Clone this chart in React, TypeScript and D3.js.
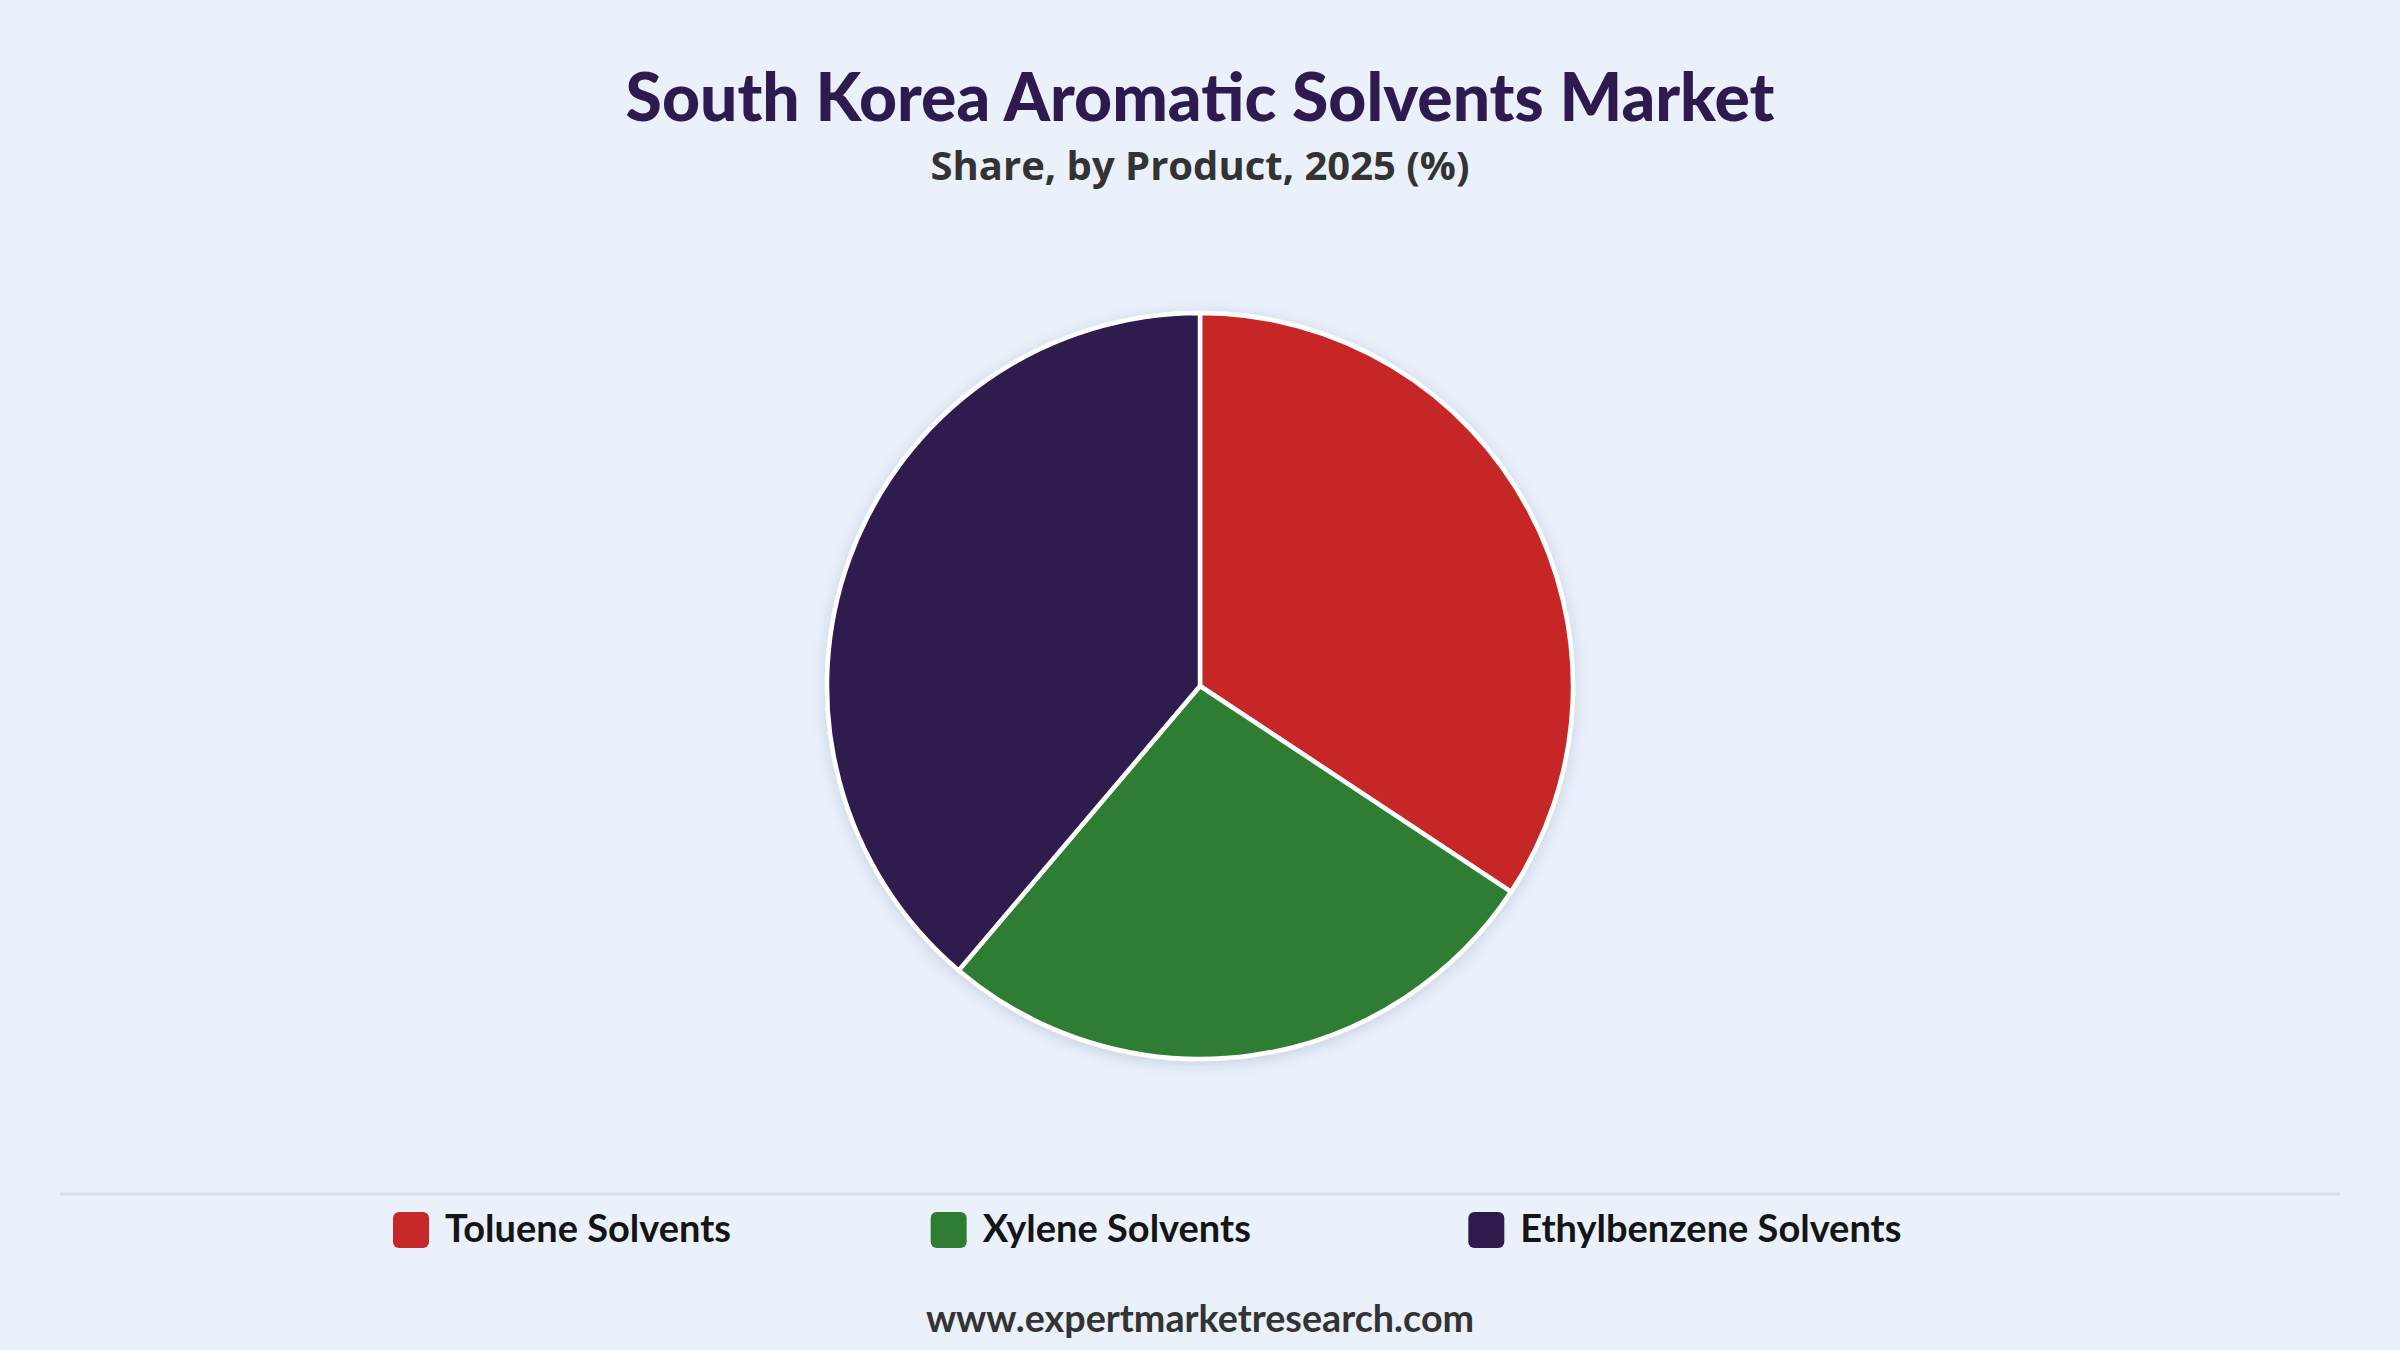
import * as d3 from 'd3';

const categories = ['Toluene Solvents', 'Xylene Solvents', 'Ethylbenzene Solvents'];
const shares = [34.3, 26.9, 38.8];
const colors = ['#c62828', '#2e7d32', '#2e1a4f'];

const title = 'South Korea Aromatic Solvents Market';
const subtitle = 'Share, by Product, 2025 (%)';
const footer = 'www.expertmarketresearch.com';

const W = 2400;
const H = 1350;
const FONT = 'Lato, "Open Sans", sans-serif';

const App = () => {
  const cx = 1200;
  const cy = 686;
  const radius = 373;

  const slices = d3
    .pie<number>()
    .sort(null)
    .startAngle(0)
    .endAngle(2 * Math.PI)(shares);

  const arc = d3.arc<d3.PieArcDatum<number>>().innerRadius(0).outerRadius(radius);

  // legend columns, left aligned
  const legendX = d3.scaleBand<string>().domain(categories).range([393, 2006]);

  return (
    <svg
      width={W}
      height={H}
      style={{ position: 'absolute', left: 0, top: 0, display: 'block' }}
    >
      <defs>
        <filter id="pieShadow" x="-20%" y="-20%" width="140%" height="140%">
          <feDropShadow dx="0" dy="3" stdDeviation="7" floodColor="#2a3a5a" floodOpacity="0.18" />
        </filter>
      </defs>
      <rect width={W} height={H} fill="#eaf1fb" />

      <text
        x={W / 2}
        y={121}
        textAnchor="middle"
        fontFamily={FONT}
        fontWeight={900}
        fontSize={66}
        fill="#2e1a4f"
      >
        {title}
      </text>
      <text
        x={W / 2}
        y={180}
        textAnchor="middle"
        fontFamily='"Open Sans", sans-serif'
        fontWeight={700}
        fontSize={40}
        fill="#333333"
      >
        {subtitle}
      </text>

      <g transform={`translate(${cx},${cy})`} filter="url(#pieShadow)">
        {slices.map((s, i) => (
          <path key={categories[i]} d={arc(s) ?? ''} fill={colors[i]} stroke="#ffffff" strokeWidth={4.5} strokeLinejoin="round" />
        ))}
      </g>

      <line x1={60} x2={2340} y1={1194} y2={1194} stroke="#dcdfe4" strokeWidth={3} />

      {categories.map((c, i) => {
        const x = legendX(c) ?? 0;
        return (
          <g key={c} transform={`translate(${x},1212)`}>
            <rect width={36} height={36} rx={6} fill={colors[i]} />
            <text x={52} y={30} fontFamily={FONT} fontWeight={700} fontSize={38} fill="#151515">
              {c}
            </text>
          </g>
        );
      })}

      <text
        x={W / 2}
        y={1332}
        textAnchor="middle"
        fontFamily={FONT}
        fontWeight={700}
        fontSize={37.7}
        fill="#333333"
      >
        {footer}
      </text>
    </svg>
  );
};

export default App;
